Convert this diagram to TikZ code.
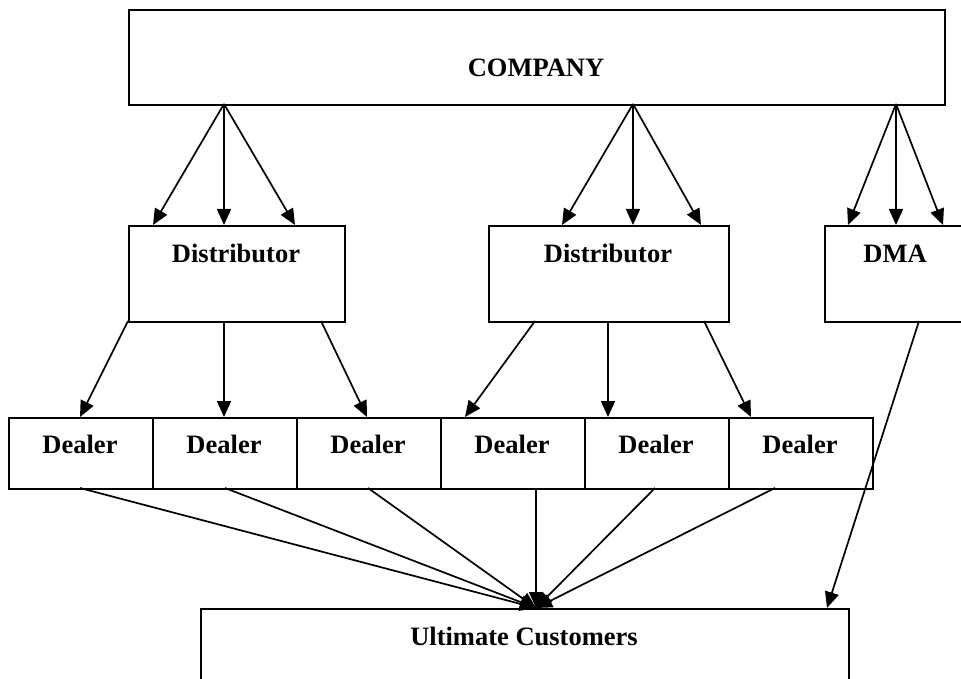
\documentclass[tikz,border=0pt]{standalone}
\usepackage{fontspec}
\setmainfont{Liberation Serif}
\usetikzlibrary{arrows.meta}
\begin{document}
\begin{tikzpicture}[x=1pt,y=-1pt,
  box/.style={draw,line width=2pt,inner sep=0pt,anchor=north west},
  lbl/.style={font=\fontsize{26.5}{30}\selectfont\bfseries,anchor=base,inner sep=0pt},
  arr/.style={line width=1.7pt,-{Triangle[length=16pt,width=14pt]}}]
\useasboundingbox (0,0) rectangle (961,679);
\fill[white] (0,0) rectangle (961,679);
% boxes
\node[box,minimum width=816pt,minimum height=95pt] (comp) at (128,9) {};
\node[box,minimum width=216pt,minimum height=96pt] (dist1) at (128,225) {};
\node[box,minimum width=240pt,minimum height=96pt] (dist2) at (488,225) {};
\node[box,minimum width=142pt,minimum height=96pt] (dma) at (824,225) {};
\node[box,minimum width=144pt,minimum height=71pt] (deal1) at (8,417) {};
\node[box,minimum width=144pt,minimum height=71pt] (deal2) at (152,417) {};
\node[box,minimum width=144pt,minimum height=71pt] (deal3) at (296,417) {};
\node[box,minimum width=144pt,minimum height=71pt] (deal4) at (440,417) {};
\node[box,minimum width=144pt,minimum height=71pt] (deal5) at (584,417) {};
\node[box,minimum width=144pt,minimum height=71pt] (deal6) at (728,417) {};
\node[box,minimum width=648pt,minimum height=100pt] (ult) at (200,608) {};
% labels
\node[lbl] (tcomp) at (536,77) {COMPANY};
\node[lbl] (tdist1) at (236,262) {Distributor};
\node[lbl] (tdist2) at (608,262) {Distributor};
\node[lbl] (tdma) at (895,262) {DMA};
\foreach \i/\x in {1/80,2/224,3/368,4/512,5/656,6/800}
  \node[lbl] (tdeal\i) at (\x,453) {Dealer};
\node[lbl] (tult) at (524,645) {Ultimate Customers};
% ports
\coordinate (cA) at (224,104);
\coordinate (cB) at (633,104);
\coordinate (cC) at (896,104);
\coordinate (a1) at (153,225); \coordinate (a2) at (224,225); \coordinate (a3) at (295,225);
\coordinate (b1) at (562,225); \coordinate (b2) at (633,225); \coordinate (b3) at (701,225);
\coordinate (e1) at (848,225); \coordinate (e2) at (896,225); \coordinate (e3) at (943,225);
\coordinate (p1) at (128,321); \coordinate (p2) at (224,321); \coordinate (p3) at (321,321);
\coordinate (q1) at (535,321); \coordinate (q2) at (608,321); \coordinate (q3) at (704,321);
\coordinate (r1) at (80,417); \coordinate (r2) at (224,417); \coordinate (r3) at (367,417);
\coordinate (r4) at (465,417); \coordinate (r5) at (608,417); \coordinate (r6) at (751,417);
\coordinate (s1) at (80,488); \coordinate (s2) at (225,488); \coordinate (s3) at (368,488);
\coordinate (s4) at (536,488); \coordinate (s5) at (655,488); \coordinate (s6) at (775,488);
\coordinate (uc) at (536,608);
\coordinate (dm) at (919,321); \coordinate (ud) at (827,608);
% connectors
\foreach \t in {a1,a2,a3} \draw[arr] (cA) -- (\t);
\foreach \t in {b1,b2,b3} \draw[arr] (cB) -- (\t);
\foreach \t in {e1,e2,e3} \draw[arr] (cC) -- (\t);
\draw[arr] (p1) -- (r1);
\draw[arr] (p2) -- (r2);
\draw[arr] (p3) -- (r3);
\draw[arr] (q1) -- (r4);
\draw[arr] (q2) -- (r5);
\draw[arr] (q3) -- (r6);
\foreach \s in {s1,s2,s3,s4,s5,s6} \draw[arr] (\s) -- (uc);
\draw[arr] (dm) -- (ud);
\end{tikzpicture}
\end{document}
